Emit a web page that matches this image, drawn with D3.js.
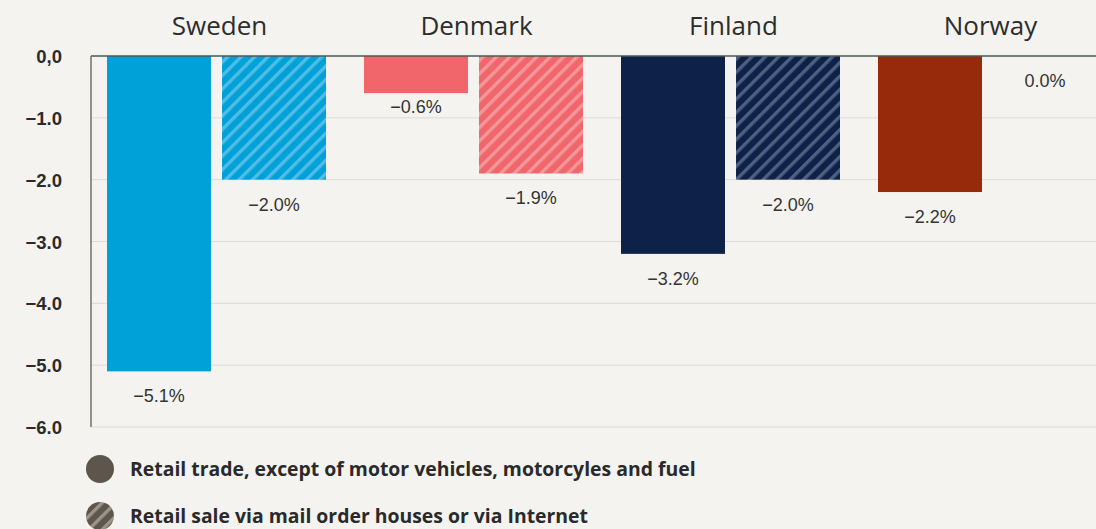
<!DOCTYPE html>
<html>
<head>
<meta charset="utf-8">
<script src="https://cdn.jsdelivr.net/npm/d3@7"></script>
<style>
  html, body { margin: 0; padding: 0; background: #f4f3ef; }
  svg { display: block; }
</style>
</head>
<body>
<div id="chart"></div>
<script>
//Chart data
var countries = ["Sweden", "Denmark", "Finland", "Norway"];
var retailTrade = [-5.1, -0.6, -3.2, -2.2];
var mailOrder = [-2.0, -1.9, -2.0, 0.0];
var tickValues = [0, -1, -2, -3, -4, -5, -6];
var tickLabels = ["0,0", "\u22121.0", "\u22122.0", "\u22123.0", "\u22124.0", "\u22125.0", "\u22126.0"];
var seriesNames = ["Retail trade, except of motor vehicles, motorcyles and fuel", "Retail sale via mail order houses or via Internet"];

var solidColors = ["#00a0d8", "#f0666a", "#0e2249", "#962a0b"];
var stripeColors = ["#4fbde6", "#f5969a", "#4e5f80", "#b8604a"];

var width = 1096, height = 529;
var margin = { left: 91, top: 56, bottom: 427 };

var svg = d3.select("#chart").append("svg")
    .attr("width", width)
    .attr("height", height);

//Diagonal stripe patterns for the second series
var defs = svg.append("defs");
function addPattern(id, base, stripe) {
    var p = defs.append("pattern")
        .attr("id", id)
        .attr("patternUnits", "userSpaceOnUse")
        .attr("width", 9.5)
        .attr("height", 9.5)
        .attr("patternTransform", "rotate(45)");
    p.append("rect").attr("width", 9.5).attr("height", 9.5).attr("fill", base);
    p.append("rect").attr("x", 0).attr("width", 3.4).attr("height", 9.5).attr("fill", stripe);
}
countries.forEach(function (c, i) { addPattern("hatch" + i, solidColors[i], stripeColors[i]); });
addPattern("hatchLegend", "#5e564d", "#9b9489");

var y = d3.scaleLinear().domain([0, -6]).range([margin.top, margin.bottom]);
var x = d3.scaleBand().domain(countries).range([margin.left, margin.left + 257 * 4]);
var xInner = d3.scaleBand().domain([0, 1]).range([16, 235]).paddingInner(0.096);

//Gridlines
svg.append("g").selectAll("line")
    .data(tickValues.slice(1))
    .enter().append("line")
    .attr("x1", margin.left).attr("x2", width)
    .attr("y1", function (d) { return y(d); })
    .attr("y2", function (d) { return y(d); })
    .attr("stroke", "#dcdbd6")
    .attr("stroke-width", 1);

//Tick labels
svg.append("g").selectAll("text")
    .data(tickValues)
    .enter().append("text")
    .attr("x", 62)
    .attr("y", function (d) { return y(d) + 7; })
    .attr("text-anchor", "end")
    .style("font-family", "'Liberation Sans', Arial, sans-serif")
    .style("font-weight", "700")
    .style("font-size", "18.5px")
    .attr("fill", "#2b2b2b")
    .text(function (d, i) { return tickLabels[i]; });

//Country labels
svg.append("g").selectAll("text")
    .data(countries)
    .enter().append("text")
    .attr("x", function (d) { return x(d) + x.bandwidth() / 2; })
    .attr("y", 35)
    .attr("text-anchor", "middle")
    .style("font-family", "'Open Sans', sans-serif")
    .style("font-size", "26px")
    .attr("fill", "#2d2d2d")
    .text(function (d) { return d; });

//Bars
var bars = [];
countries.forEach(function (c, i) {
    bars.push({ country: c, series: 0, value: retailTrade[i], idx: i });
    bars.push({ country: c, series: 1, value: mailOrder[i], idx: i });
});

svg.append("g").selectAll("rect")
    .data(bars)
    .enter().append("rect")
    .attr("x", function (d) { return x(d.country) + xInner(d.series); })
    .attr("y", y(0))
    .attr("width", xInner.bandwidth())
    .attr("height", function (d) { return y(d.value) - y(0); })
    .attr("fill", function (d) { return d.series === 0 ? solidColors[d.idx] : "url(#hatch" + d.idx + ")"; });

//Value labels (short non-zero bars get their label tucked closer)
svg.append("g").selectAll("text")
    .data(bars)
    .enter().append("text")
    .attr("x", function (d) { return x(d.country) + xInner(d.series) + xInner.bandwidth() / 2; })
    .attr("y", function (d) { return y(d.value) + (d.value < 0 && d.value > -1 ? 20 : 31); })
    .attr("text-anchor", "middle")
    .style("font-family", "'Liberation Sans', Arial, sans-serif")
    .style("font-size", "18px")
    .attr("fill", "#333")
    .text(function (d) { return (d.value < 0 ? "\u2212" : "") + Math.abs(d.value).toFixed(1) + "%"; });

//Axis lines
svg.append("line")
    .attr("x1", margin.left).attr("x2", width)
    .attr("y1", y(0)).attr("y2", y(0))
    .attr("stroke", "#4d5856").attr("stroke-width", 1.5);
svg.append("line")
    .attr("x1", margin.left).attr("x2", margin.left)
    .attr("y1", y(0)).attr("y2", y(-6))
    .attr("stroke", "#776f69").attr("stroke-width", 1.5);

//Legend
var legend = svg.append("g").selectAll("g")
    .data(seriesNames)
    .enter().append("g")
    .attr("transform", function (d, i) { return "translate(100," + (469 + i * 47) + ")"; });

legend.append("circle")
    .attr("r", 14)
    .attr("fill", function (d, i) { return i === 0 ? "#5e564d" : "url(#hatchLegend)"; });

legend.append("text")
    .attr("x", 30)
    .attr("y", 7)
    .style("font-family", "'Open Sans', sans-serif")
    .style("font-weight", "700")
    .style("font-size", "19.4px")
    .attr("fill", "#2a2a2a")
    .text(function (d) { return d; });
</script>
</body>
</html>
